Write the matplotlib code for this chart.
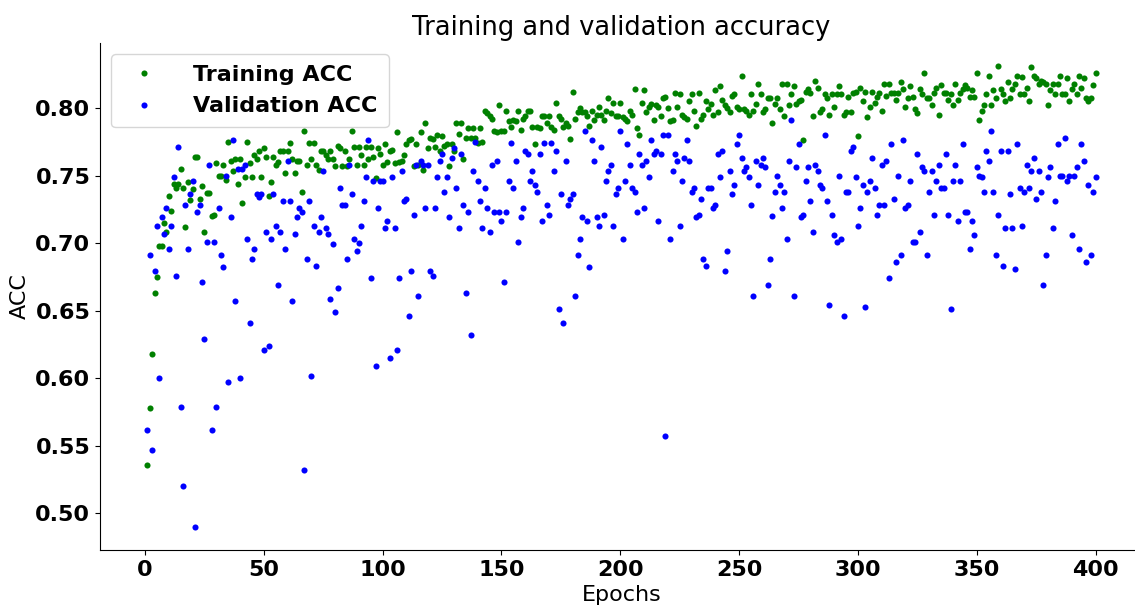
import numpy as np
import matplotlib
matplotlib.use("Agg")
import matplotlib.pyplot as plt

# accuracy per epoch in blocks of 50 epochs
train_acc = [
    .536, .578, .618, .663, .675, .698, .698, .715, .708, .735,
    .724, .744, .741, .744, .755, .741, .712, .745, .732, .740,
    .764, .764, .733, .742, .708, .737, .737, .720, .721, .759,
    .750, .750, .758, .747, .775, .761, .753, .762, .744, .762,
    .730, .749, .775, .759, .749, .765, .762, .768, .749, .770,
    # 51-100
    .764, .735, .745, .764, .758, .760, .768, .768, .752, .768,
    .774, .762, .752, .761, .761, .738, .783, .758, .774, .762,
    .774, .758, .754, .768, .768, .765, .762, .768, .762, .757,
    .772, .770, .757, .768, .757, .762, .783, .771, .758, .771,
    .765, .758, .771, .762, .771, .764, .748, .770, .766, .758,
    # 101-150
    .773, .760, .768, .769, .759, .782, .760, .761, .765, .773,
    .776, .777, .757, .773, .758, .782, .754, .789, .770, .778,
    .777, .771, .780, .768, .779, .772, .773, .757, .773, .768,
    .789, .781, .789, .762, .778, .785, .778, .785, .778, .774,
    .785, .775, .798, .796, .794, .792, .783, .782, .802, .783,
    # 151-200
    .783, .798, .790, .786, .791, .790, .798, .784, .792, .794,
    .798, .798, .786, .773, .786, .785, .794, .794, .789, .794,
    .786, .784, .804, .794, .792, .786, .789, .787, .777, .812,
    .792, .797, .800, .797, .797, .794, .787, .798, .791, .795,
    .801, .795, .791, .798, .807, .796, .804, .794, .794, .804,
    # 201-250
    .793, .792, .790, .798, .795, .814, .785, .780, .804, .813,
    .797, .801, .803, .791, .802, .801, .794, .807, .808, .800,
    .790, .791, .811, .801, .810, .795, .793, .792, .805, .810,
    .798, .787, .811, .792, .795, .805, .799, .803, .795, .813,
    .797, .816, .806, .802, .800, .797, .809, .810, .801, .799,
    # 251-300
    .824, .799, .798, .795, .810, .798, .803, .818, .810, .797,
    .799, .807, .807, .789, .803, .807, .799, .818, .794, .818,
    .802, .810, .816, .803, .805, .806, .776, .812, .814, .811,
    .794, .820, .815, .797, .799, .810, .807, .795, .810, .801,
    .810, .816, .810, .795, .797, .808, .797, .811, .812, .779,
    # 301-350
    .815, .805, .812, .793, .801, .812, .804, .808, .811, .798,
    .818, .809, .818, .811, .811, .806, .811, .819, .814, .801,
    .807, .816, .808, .799, .796, .814, .810, .826, .807, .807,
    .802, .811, .815, .795, .817, .811, .811, .806, .810, .802,
    .818, .806, .811, .814, .817, .815, .808, .813, .808, .826,
    # 351-400
    .791, .798, .802, .810, .824, .802, .813, .807, .831, .814,
    .810, .805, .819, .807, .814, .818, .824, .810, .823, .810,
    .815, .805, .830, .824, .822, .818, .820, .819, .818, .802,
    .813, .818, .810, .818, .824, .810, .810, .822, .805, .814,
    .818, .810, .824, .815, .822, .807, .805, .807, .817, .826,
]

val_acc = [
    .562, .691, .547, .679, .713, .600, .719, .707, .726, .696,
    .713, .749, .676, .771, .579, .520, .728, .696, .736, .746,
    .490, .723, .728, .671, .629, .701, .758, .562, .701, .579,
    .726, .691, .682, .750, .597, .719, .776, .657, .755, .600,
    .755, .758, .703, .641, .688, .696, .736, .734, .736, .621,
    # 51-100
    .708, .624, .703, .736, .713, .669, .708, .731, .696, .761,
    .731, .657, .707, .719, .726, .723, .532, .688, .731, .602,
    .713, .683, .708, .719, .753, .711, .707, .659, .699, .649,
    .667, .741, .728, .728, .688, .758, .736, .703, .694, .700,
    .713, .731, .749, .776, .674, .746, .609, .726, .746, .746,
    # 101-150
    .711, .716, .615, .749, .711, .621, .674, .753, .731, .733,
    .646, .679, .721, .758, .661, .761, .758, .726, .758, .679,
    .676, .726, .749, .761, .766, .738, .749, .719, .763, .770,
    .741, .711, .766, .728, .663, .723, .632, .753, .775, .746,
    .731, .711, .741, .726, .708, .758, .723, .761, .723, .716,
    # 151-200
    .671, .723, .746, .774, .741, .761, .701, .719, .726, .768,
    .766, .746, .753, .743, .738, .766, .716, .774, .728, .721,
    .774, .753, .768, .651, .736, .641, .761, .728, .733, .736,
    .661, .691, .703, .719, .783, .716, .682, .776, .761, .719,
    .713, .771, .721, .746, .753, .758, .713, .736, .741, .783,
    # 201-250
    .703, .746, .773, .758, .741, .738, .723, .766, .758, .726,
    .761, .749, .776, .766, .768, .716, .766, .780, .557, .780,
    .703, .753, .766, .761, .713, .746, .763, .776, .761, .738,
    .741, .719, .721, .733, .688, .683, .741, .741, .726, .728,
    .766, .749, .768, .679, .694, .753, .736, .743, .773, .780,
    # 251-300
    .763, .753, .756, .749, .728, .661, .761, .743, .758, .763,
    .756, .669, .688, .720, .738, .750, .743, .726, .738, .703,
    .761, .791, .661, .756, .773, .719, .721, .746, .756, .731,
    .708, .758, .753, .743, .741, .780, .731, .654, .721, .706,
    .701, .750, .703, .646, .738, .738, .768, .771, .749, .713,
    # 301-350
    .726, .743, .653, .738, .746, .763, .741, .721, .728, .758,
    .728, .761, .674, .773, .733, .686, .750, .691, .776, .726,
    .728, .746, .701, .701, .766, .708, .756, .753, .691, .738,
    .753, .721, .746, .758, .741, .741, .766, .721, .651, .746,
    .758, .716, .746, .773, .723, .723, .696, .716, .706, .756,
    # 351-400
    .750, .749, .738, .768, .761, .783, .738, .691, .721, .768,
    .683, .711, .768, .736, .711, .681, .773, .741, .713, .738,
    .758, .741, .753, .763, .733, .753, .738, .669, .691, .749,
    .756, .711, .731, .773, .750, .750, .778, .746, .750, .706,
    .750, .756, .696, .773, .761, .686, .743, .691, .738, .749,
]

train_epochs = np.arange(1, len(train_acc) + 1)
val_epochs = np.arange(1, len(val_acc) + 1)

fig = plt.figure(figsize=(11.35, 6.06), dpi=100)
# right edge of the axes falls just outside the picture, as in the reference
ax = fig.add_axes([100 / 1135, 56 / 606, 1043 / 1135, 507 / 606])

ax.plot(train_epochs, train_acc, 'o', color='green', ms=4.4, mew=0, label='Training ACC')
ax.plot(val_epochs, val_acc, 'o', color='blue', ms=4.4, mew=0, label='Validation ACC')

ax.set_title('Training and validation accuracy', fontsize=18.5)
ax.set_xlabel('Epochs', fontsize=16)
ax.set_ylabel('ACC', fontsize=16)
ax.set_xticks(np.arange(0, 401, 50))
ax.set_yticks(np.arange(0.50, 0.801, 0.05))
for lab in ax.get_xticklabels() + ax.get_yticklabels():
    lab.set_fontweight('bold')
    lab.set_fontsize(16)

ax.spines['top'].set_visible(False)
ax.spines['right'].set_visible(False)

leg = ax.legend(loc='upper left', prop={'weight': 'bold', 'size': 16},
                markerscale=1.0, handletextpad=1.2, borderpad=0.5)

fig.savefig('out.png', dpi=100)
